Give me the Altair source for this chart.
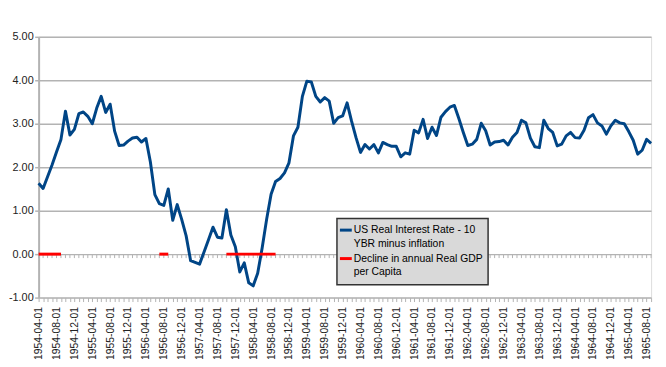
import json
import altair as alt
import pandas as pd

# ---------------- data ----------------
dates = pd.date_range("1954-04-01", "1965-09-01", freq="MS").strftime("%Y-%m-%d").tolist()

real_rate = [
    1.63, 1.51, 1.78, 2.05, 2.35, 2.64, 3.29, 2.74, 2.87, 3.23, 3.27, 3.17,
    3.00, 3.36, 3.63, 3.26, 3.45, 2.83, 2.50, 2.51, 2.60, 2.67, 2.69, 2.58,
    2.66, 2.12, 1.37, 1.16, 1.12, 1.50, 0.78, 1.14, 0.80, 0.42, -0.15, -0.19,
    -0.23, 0.05, 0.33, 0.62, 0.39, 0.37, 1.02, 0.44, 0.17, -0.41, -0.20, -0.66,
    -0.73, -0.44, 0.14, 0.80, 1.38, 1.67, 1.74, 1.87, 2.10, 2.72, 2.92, 3.63,
    3.98, 3.96, 3.63, 3.50, 3.60, 3.52, 3.01, 3.14, 3.18, 3.48, 3.06, 2.68,
    2.34, 2.52, 2.42, 2.52, 2.33, 2.57, 2.52, 2.48, 2.48, 2.24, 2.33, 2.30,
    2.85, 2.79, 3.10, 2.66, 2.92, 2.73, 3.15, 3.28, 3.38, 3.42, 3.12, 2.80,
    2.50, 2.53, 2.64, 3.01, 2.84, 2.51, 2.58, 2.59, 2.62, 2.51, 2.69, 2.80,
    3.08, 3.02, 2.67, 2.47, 2.45, 3.08, 2.89, 2.80, 2.49, 2.53, 2.72, 2.80,
    2.68, 2.67, 2.85, 3.14, 3.21, 3.02, 2.95, 2.76, 2.95, 3.08, 3.02, 3.00,
    2.82, 2.62, 2.30, 2.39, 2.64, 2.55,
]

decline_periods = [
    ("1954-04-01", "1954-09-01"),
    ("1956-07-01", "1956-09-01"),
    ("1957-10-01", "1958-09-01"),
]

series_names = [
    "US Real Interest Rate - 10 YBR minus inflation",
    "Decline in annual Real GDP per Capita",
]
legend_lines = [
    ["US Real Interest Rate - 10", "YBR minus inflation"],
    ["Decline in annual Real GDP", "per Capita"],
]
y_ticks = [-1, 0, 1, 2, 3, 4, 5]

# ---------------- style ----------------
BLUE = "#004586"
RED = "#ff0000"
GRID = "#b3b3b3"
FONT = "Liberation Sans"
TXT = "#222222"

df = pd.DataFrame({"i": list(range(len(dates))), "date": dates, "rate": real_rate})
df["zero"] = 0.0

rows = []
for k, (a, b) in enumerate(decline_periods):
    ia, ib = dates.index(a), dates.index(b)
    for i in range(ia, ib + 1):
        rows.append({"i": i, "date": dates[i], "value": 0.0, "period": k})
decl = pd.DataFrame(rows)

x_labels = [d if i % 4 == 0 else "" for i, d in enumerate(dates)]

x_scale = alt.Scale(domain=[0, len(dates) - 1], nice=False, zero=False)
y_scale = alt.Scale(domain=[-1, 5], nice=False, zero=False)

x_axis = alt.Axis(
    values=list(range(len(dates))),
    labelExpr=json.dumps(x_labels) + "[datum.value]",
    labelAngle=270,
    labelOverlap=False,
    labelFlush=False,
    labelSeparation=0,
    labelFont=FONT,
    labelFontSize=10.5,
    labelColor=TXT,
    labelPadding=5,
    tickColor=GRID,
    tickSize=4,
    tickWidth=1,
    domain=False,
    grid=False,
    title=None,
)
y_axis = alt.Axis(
    values=y_ticks,
    labelExpr="(datum.value < 0 ? '-' : '') + format(abs(datum.value), '.2f')",
    labelFont=FONT,
    labelFontSize=11,
    labelColor=TXT,
    labelPadding=1.5,
    labelOverlap=False,
    tickColor=GRID,
    tickSize=4,
    tickWidth=1.5,
    domainColor=GRID,
    domainWidth=2,
    grid=True,
    gridColor=GRID,
    gridWidth=1.5,
    title=None,
)

X = alt.X("i:Q", scale=x_scale, axis=x_axis)

zero_ticks = alt.Chart(df).mark_rule(color=GRID, strokeWidth=1, y2Offset=4).encode(
    x=X,
    y=alt.Y("zero:Q", scale=y_scale, axis=y_axis),
    y2="zero:Q",
)

rate_line = alt.Chart(df).mark_line(color=BLUE, strokeWidth=3, strokeJoin="round").encode(
    x=X,
    y=alt.Y("rate:Q", scale=y_scale, axis=y_axis),
)

decline_line = alt.Chart(decl).mark_line(color=RED, strokeWidth=3).encode(
    x=X,
    y=alt.Y("value:Q", scale=y_scale, axis=y_axis),
    detail="period:N",
)

one = pd.DataFrame({"k": [0]})
leg_box = alt.Chart(one).mark_rect(fill="#d9d9d9", stroke="#333333", strokeWidth=1.5).encode(
    x=alt.value(302), x2=alt.value(455), y=alt.value(184), y2=alt.value(251)
)

leg_layers = [leg_box]
sym_y = [195.7, 224.5]
colors = [BLUE, RED]
for s in range(2):
    leg_layers.append(
        alt.Chart(one).mark_rule(color=colors[s], strokeWidth=3).encode(
            x=alt.value(305), x2=alt.value(317), y=alt.value(sym_y[s])
        )
    )
    for j, line in enumerate(legend_lines[s]):
        leg_layers.append(
            alt.Chart(one).mark_text(
                align="left", baseline="middle", font=FONT, fontSize=10.5, color="black"
            ).encode(
                x=alt.value(319), y=alt.value(sym_y[s] + 14 * j), text=alt.value(line)
            )
        )

chart = (
    alt.layer(zero_ticks, rate_line, decline_line, *leg_layers)
    .properties(
        width=620,
        height=264,
        autosize=alt.AutoSizeParams(type="none"),
        padding={"left": 31, "top": 27, "right": 7, "bottom": 60},
    )
    .configure_axis(labelOverlap=False)
    .configure_view(stroke=GRID, strokeWidth=1.5)
    .configure(background="white")
)

chart.save("out.html", embed_options={"renderer": "svg", "actions": False})
